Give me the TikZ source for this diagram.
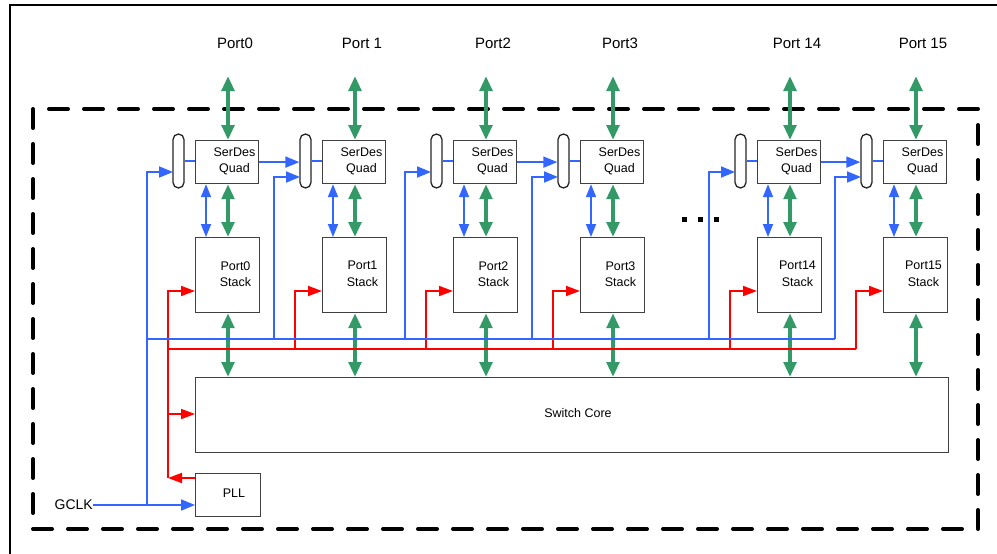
\documentclass[tikz,border=0pt]{standalone}
\usepackage{fontspec}
\setmainfont{Liberation Sans}
\usetikzlibrary{arrows.meta,calc}
\definecolor{gblue}{RGB}{51,102,255}
\definecolor{ggreen}{RGB}{51,153,102}
\definecolor{gred}{RGB}{255,0,0}
\begin{document}
\begin{tikzpicture}[x=1pt,y=-1pt,
  boxst/.style={draw=black!75, line width=1.2pt, fill=white, inner sep=0pt, anchor=north west},
  capst/.style={draw=black!85, line width=1.3pt, fill=white, rounded corners=5.5pt, minimum width=11pt, minimum height=54pt, inner sep=0pt},
  txtin/.style={inner sep=0pt, align=center, font=\fontsize{12.5}{16.5}\selectfont},
  txtport/.style={inner sep=0pt, font=\fontsize{15}{18}\selectfont},
  bline/.style={draw=gblue, line width=1.8pt},
  barr/.style={bline, -{Triangle[length=14pt,width=11pt]}},
  bdbl/.style={bline, {Triangle[length=13pt,width=10pt]}-{Triangle[length=13pt,width=10pt]}},
  rline/.style={draw=gred, line width=1.8pt},
  rarr/.style={rline, -{Triangle[length=14pt,width=10pt]}},
  gdbl/.style={draw=ggreen, line width=4pt, {Triangle[length=15pt,width=12.5pt]}-{Triangle[length=15pt,width=12.5pt]}},
  outerframe/.style={line width=2.2pt},
  dashframe/.style={line width=4pt, dash pattern=on 19pt off 16pt, line cap=round}
]
\useasboundingbox (0,0) rectangle (997,554);
% outer frame
\coordinate (fa) at (10,560);
\coordinate (fb) at (10,5);
\coordinate (fc) at (1000,5);
\draw[outerframe] (fa) -- (fb) -- (fc);
% dashed boundary
\coordinate (dtl) at (33,109);
\coordinate (dbr) at (978,529);
\draw[dashframe] (dtl) rectangle (dbr);

% switch core and PLL
\node[boxst, minimum width=753pt, minimum height=75pt] (core) at (195,377) {};
\node[txtin] (coret) at (578,413) {Switch Core};
\node[boxst, minimum width=65pt, minimum height=43pt] (pll) at (195,473) {};
\node[txtin] (pllt) at (234,493) {PLL};
\node[inner sep=0pt, anchor=east, font=\fontsize{14}{16}\selectfont] (gclk) at (93,505) {GCLK};
\coordinate (gclkout) at (93,505);
\coordinate (pllin) at (195,505);

% port columns
\foreach \L/\i/\pl/\sl in {195/0/Port0/Port0,322/1/Port 1/Port1,453/2/Port2/Port2,580/3/Port3/Port3,757/14/Port 14/Port14,883/15/Port 15/Port15}{
  \node[boxst, minimum width=63pt, minimum height=43pt] (sd\i) at (\L,140) {};
  \node[txtin] (sdt\i) at (\L+39.5,161.5) {SerDes\\Quad};
  \node[boxst, minimum width=64pt, minimum height=75pt] (st\i) at (\L,237) {};
  \node[txtin] (stt\i) at (\L+40.5,274) {\sl\\Stack};
  \node[capst] (cap\i) at (\L-16.5,161) {};
  \node[txtport] (pl\i) at (\L+40,43) {\pl};
  \coordinate (pt\i) at (\L+33,76);
  \coordinate (ga\i) at ([xshift=33pt]sd\i.south west);
  \coordinate (gb\i) at ([xshift=33pt]st\i.north west);
  \coordinate (gc\i) at ([xshift=33pt]st\i.south west);
  \coordinate (ba\i) at ([xshift=11pt]sd\i.south west);
  \coordinate (bb\i) at ([xshift=11pt]st\i.north west);
  \draw[gdbl] (pt\i) -- (pt\i |- sd\i.north);
  \draw[gdbl] (ga\i) -- (gb\i);
  \draw[bdbl] (ba\i) -- (bb\i);
  \draw[gdbl] (gc\i) -- (gc\i |- core.north);
  \draw[bline] (cap\i.east) -- (cap\i.east -| sd\i.west);
  \coordinate (rv\i) at (\L-27,349);
  \coordinate (rs\i) at (\L,291);
  \draw[rarr] (rv\i) |- (rs\i);
}

% blue clock distribution
\foreach \L/\i/\yy in {195/0/172,322/1/177,453/2/172,580/3/177,757/14/172,883/15/177}{
  \coordinate (bv\i) at (\L-48,339);
  \coordinate (bi\i) at (\L-22,\yy);
  \draw[barr] (bv\i) |- (bi\i);
}
\coordinate (gj) at (147,505);
\draw[bline] (gj) -- (bv0);
\draw[bline] (bv0) -- (bv15);
\draw[barr] (gclkout) -- (pllin);
\draw[barr] (sd0.east) -- (sd0.east -| cap1.west);
\draw[barr] (sd2.east) -- (sd2.east -| cap3.west);
\draw[barr] (sd14.east) -- (sd14.east -| cap15.west);

% red distribution
\coordinate (rp) at (168,478);
\coordinate (rc) at (168,414);
\draw[rarr] (pll.west |- rp) -- (rp);
\draw[rline] (rp) -- (rv0);
\draw[rline] (rv0) -- (rv15);
\draw[rarr] (rc) -- (rc -| core.west);

% ellipsis dots
\fill (681.5,216.5) rectangle +(5,5);
\fill (697.5,216.5) rectangle +(5,5);
\fill (713.5,216.5) rectangle +(5,5);
\end{tikzpicture}
\end{document}
